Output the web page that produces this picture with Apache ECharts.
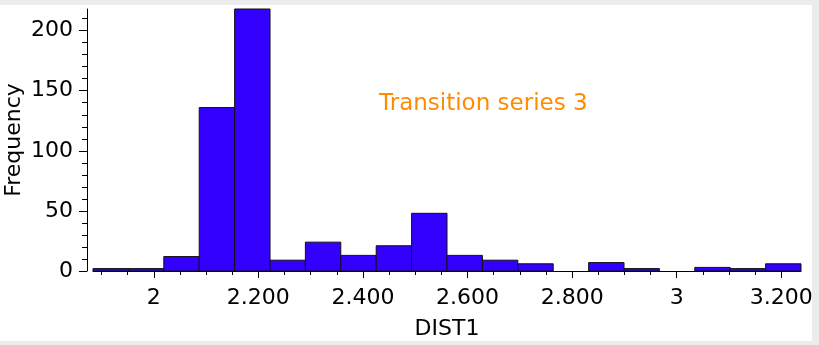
<!DOCTYPE html>
<html>
<head>
<meta charset="utf-8">
<script src="https://cdn.jsdelivr.net/npm/echarts@6/dist/echarts.min.js"></script>
<style>
  html, body { margin: 0; padding: 0; background: #ececec; width: 819px; height: 345px; overflow: hidden; }
  #chart { position: absolute; left: 0; top: 5px; width: 812px; height: 336px; background: #ffffff; }
</style>
</head>
<body>
<div id="chart"></div>
<script>
// Histogram bin edges (DIST1) and counts
const binEdges = [1.8838, 1.9515, 2.0192, 2.0869, 2.1546, 2.2223, 2.2899, 2.3576, 2.4253, 2.4930,
                  2.5607, 2.6284, 2.6961, 2.7638, 2.8315, 2.8992, 2.9668, 3.0345, 3.1022, 3.1699, 3.2376];
const counts = [2, 2, 12, 136, 218, 9, 24, 13, 21, 48, 13, 9, 6, 0, 7, 2, 0, 3, 2, 6];

const xMajorTicks = [2, 2.2, 2.4, 2.6, 2.8, 3, 3.2];
const xMinorTicks = [1.9, 1.95, 2.05, 2.1, 2.15, 2.25, 2.3, 2.35, 2.45, 2.5, 2.55, 2.65, 2.7, 2.75,
                     2.85, 2.9, 2.95, 3.05, 3.1, 3.15];
const yMajorTicks = [0, 50, 100, 150, 200];
const yMinorTicks = [10, 20, 30, 40, 60, 70, 80, 90, 110, 120, 130, 140, 160, 170, 180, 190, 210];

const titleText = 'Transition series 3';
const xName = 'DIST1';
const yName = 'Frequency';

const data = counts.map((c, i) => [binEdges[i], binEdges[i + 1], c]);
const xMin = binEdges[0], xMax = binEdges[binEdges.length - 1];
const yMax = Math.max.apply(null, counts);

const FONT = 'DejaVu Sans';
const chart = echarts.init(document.getElementById('chart'), null, { renderer: 'canvas' });

const fmtX = v => Number.isInteger(v) ? String(v) : v.toFixed(3);

chart.setOption({
  animation: false,
  backgroundColor: '#ffffff',
  title: {
    text: titleText,
    left: 374, top: 83,
    textStyle: { color: '#ff8c00', fontFamily: FONT, fontSize: 23, fontWeight: 'normal' }
  },
  grid: { left: 93, right: 11, top: 4, bottom: 70, containLabel: false, outerBoundsMode: 'none' },
  xAxis: [
    {
      type: 'value', min: xMin, max: xMax, offset: 7,
      name: xName, nameLocation: 'middle', nameGap: 40, nameMoveOverlap: false,
      nameTextStyle: { color: '#000', fontFamily: FONT, fontSize: 22 },
      axisLine: { show: true, lineStyle: { color: '#000', width: 1 } },
      axisTick: { show: true, customValues: xMajorTicks, length: 7, lineStyle: { color: '#000' } },
      axisLabel: { customValues: xMajorTicks, formatter: fmtX, color: '#000', fontFamily: FONT, fontSize: 22, margin: 9 },
      splitLine: { show: false }
    },
    {
      type: 'value', min: xMin, max: xMax, offset: 7, position: 'bottom',
      axisLine: { show: false },
      axisTick: { show: true, customValues: xMinorTicks, length: 4, lineStyle: { color: '#000' } },
      axisLabel: { show: false },
      splitLine: { show: false }
    }
  ],
  yAxis: [
    {
      type: 'value', min: 0, max: yMax, offset: 6,
      name: yName, nameLocation: 'middle', nameGap: 62, nameRotate: 90, nameMoveOverlap: false,
      nameTextStyle: { color: '#000', fontFamily: FONT, fontSize: 22 },
      axisLine: { show: true, lineStyle: { color: '#000', width: 1 } },
      axisTick: { show: true, customValues: yMajorTicks, length: 8, lineStyle: { color: '#000' } },
      axisLabel: { customValues: yMajorTicks, color: '#000', fontFamily: FONT, fontSize: 22, margin: 14 },
      splitLine: { show: false }
    },
    {
      type: 'value', min: 0, max: yMax, offset: 6, position: 'left',
      axisLine: { show: false },
      axisTick: { show: true, customValues: yMinorTicks, length: 5, lineStyle: { color: '#000' } },
      axisLabel: { show: false },
      splitLine: { show: false }
    }
  ],
  series: [{
    type: 'custom',
    xAxisIndex: 0, yAxisIndex: 0,
    encode: { x: [0, 1], y: 2 },
    data: data,
    renderItem: function (params, api) {
      const x0 = api.value(0), x1 = api.value(1), v = api.value(2);
      if (!v) return null;
      const p0 = api.coord([x0, v]);
      const p1 = api.coord([x1, 0]);
      return {
        type: 'rect',
        shape: { x: p0[0], y: p0[1], width: p1[0] - p0[0], height: p1[1] - p0[1] },
        style: { fill: '#3300ff', stroke: '#111111', lineWidth: 1 }
      };
    }
  }]
});
</script>
</body>
</html>
